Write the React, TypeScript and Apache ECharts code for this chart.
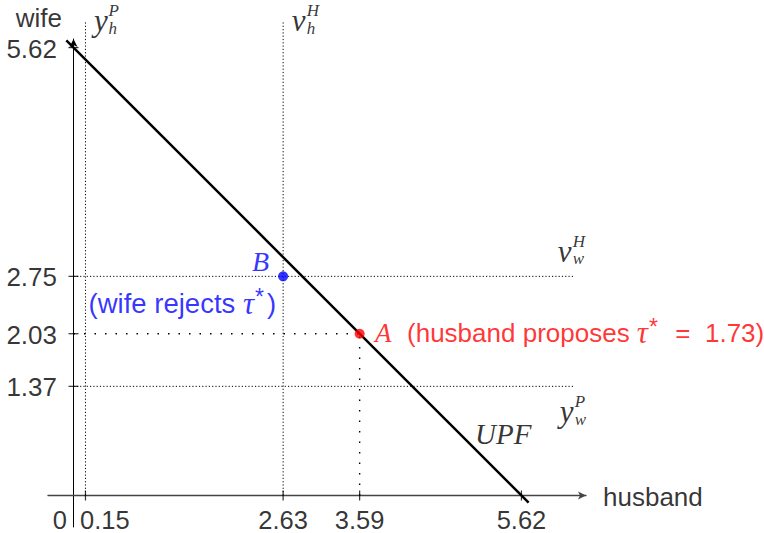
import React, { useEffect, useRef } from 'react';
import * as echarts from 'echarts';

// ---- data ----
const X_MIN = -0.32;
const X_MAX = 6.43;
const Y_MIN = -0.395;
const Y_MAX = 5.728;
const xTickValues = [0.15, 2.63, 3.59, 5.62];
const xTickLabelValues = [0, 0.15, 2.63, 3.59, 5.62];
const xTickLabels = ['0', '0.15', '2.63', '3.59', '5.62'];
const yTickValues = [5.62, 2.75, 2.03, 1.37];
const yTickLabels = ['5.62', '2.75', '2.03', '1.37'];
const upfLine = [[-0.09, 5.71], [5.71, -0.09]];
const pointA = [3.59, 2.03];
const pointB = [2.63, 2.75];
const tauStar = 1.73;
const verticalRefs = [0.15, 2.63]; // y_h^P, v_h^H
const horizontalRefs = [2.75, 1.37]; // v_w^H, y_w^P
const refLineTop = 5.95;
const refLineRight = 6.27;
const upfLabelAnchor = [5.0, 0.62];

const SANS = '"Liberation Sans", Arial, sans-serif';
const SERIF = '"Liberation Serif", "Times New Roman", serif';
const RED = '#ff0000';
const BLUE = '#0000ff';

type LabOpt = {
  dx: number; dy: number; align?: string; serif?: boolean; size?: number; color?: string; rich?: any; lh?: number;
};

function textItem(value: number[], text: string, o: LabOpt) {
  const size = o.size ?? 26;
  return {
    value,
    label: {
      show: true,
      position: 'inside',
      formatter: text,
      align: o.align ?? 'left',
      verticalAlign: 'middle',
      offset: [o.dx, o.dy],
      fontFamily: o.serif ? SERIF : SANS,
      fontStyle: o.serif ? 'italic' : 'normal',
      fontSize: size,
      lineHeight: o.lh ?? Math.round(size * 0.8),
      color: o.color ?? '#000',
      rich: o.rich,
    },
  };
}

function mathRich(color: string, size: number) {
  return {
    sn: { fontFamily: SANS, fontSize: size, color, lineHeight: 24 },
    tau: { fontFamily: SERIF, fontStyle: 'italic', fontSize: 31, color, lineHeight: 24 },
    sup: { fontFamily: SANS, fontSize: 23, color, padding: [0, 3, 12, 1], lineHeight: 14 },
  };
}

// symbol with stacked super/subscript: main letter + "sup\nsub"
function mathSymbol(items: any[], anchor: number[], main: string, sup: string, sub: string,
  mainDx: number, mainDy: number, scriptDx: number, scriptDy: number) {
  items.push(textItem(anchor, main, { dx: mainDx, dy: mainDy, serif: true, size: 31, lh: 24 }));
  items.push(textItem(anchor, `${sup}\n${sub}`, { dx: scriptDx + 0.5, dy: scriptDy, serif: true, size: 17, lh: 17.5 }));
}

function buildLabels() {
  const items: any[] = [];
  // x tick labels
  xTickLabelValues.forEach((v, i) => {
    let align = 'center';
    let dx = 0;
    if (v === 0) { align = 'right'; dx = -6.5; }
    else if (i === 1) { align = 'left'; dx = -5.5; }
    items.push(textItem([v, 0], xTickLabels[i], { dx, dy: 24.8, align, lh: 20, size: 25.5 }));
  });
  // y tick labels
  yTickValues.forEach((v, i) => {
    items.push(textItem([0, v], yTickLabels[i], { dx: -16.5, dy: 1, align: 'right', lh: 20 }));
  });
  // axis names
  items.push(textItem([0, 5.62], 'wife', { dx: -11.5, dy: -29.6, align: 'right', lh: 20 }));
  items.push(textItem([X_MAX, 0], 'husband', { dx: 17, dy: 1.5, lh: 20 }));
  // y_h^P, v_h^H
  mathSymbol(items, [verticalRefs[0], 5.62], 'y', 'P', 'h', 8.5, -27.1, 22.5, -27.9);
  mathSymbol(items, [verticalRefs[1], 5.62], 'v', 'H', 'h', 8.5, -27.1, 23, -27.9);
  // v_w^H, y_w^P
  mathSymbol(items, [refLineRight, horizontalRefs[0]], 'v', 'H', 'w', -15.5, -24.8, -1, -26.1);
  mathSymbol(items, [refLineRight, horizontalRefs[1]], 'y', 'P', 'w', -13.5, 25.2, 1, 24.4);
  // UPF
  items.push(textItem(upfLabelAnchor, 'UPF', { dx: 3, dy: -12, serif: true, size: 29 }));
  // B
  items.push(textItem(pointB, 'B', { dx: -14, dy: -15, align: 'right', serif: true, size: 28, color: BLUE }));
  items.push(textItem(pointB, '{sn|(wife rejects }{tau|τ}{sup|*}{sn|)}', {
    dx: -7, dy: 27, align: 'right', color: BLUE, rich: mathRich(BLUE, 27.5), lh: 24,
  }));
  // A
  items.push(textItem(pointA, 'A', { dx: 15.4, dy: -1, serif: true, size: 27, color: RED }));
  items.push(textItem(pointA, `{sn|(husband proposes }{tau|τ}{sup|*}{sn|  =  ${tauStar.toFixed(2)})}`, {
    dx: 47.4, dy: -1, color: RED, rich: mathRich(RED, 26), lh: 24,
  }));
  return items;
}

const dense = { type: [1.2, 2.1], width: 1, color: '#000' };
const loose = { type: [1.5, 9], width: 1.4, color: '#000' };

function seg(data: number[][], lineStyle: any, z = 2) {
  return {
    type: 'line', data, showSymbol: false, symbol: 'none', lineStyle, clip: false, silent: true, z,
  };
}

export default function App() {
  const ref = useRef<HTMLDivElement>(null);
  useEffect(() => {
    if (!ref.current) return;
    const chart = echarts.init(ref.current, undefined, { renderer: 'svg' });
    const axisCommon = {
      type: 'value',
      axisTick: { show: false },
      axisLabel: { show: false },
      splitLine: { show: false },
    };
    chart.setOption({
      animation: false,
      backgroundColor: '#fff',
      grid: { left: 48, top: 39, width: 538, height: 488, containLabel: false, outerBoundsMode: 'none' },
      xAxis: {
        ...axisCommon, min: X_MIN, max: X_MAX,
        axisLine: { show: true, onZero: true, symbol: ['none', 'arrow'], symbolSize: [6, 8], lineStyle: { color: '#444', width: 1.4 } },
      },
      yAxis: {
        ...axisCommon, min: Y_MIN, max: Y_MAX,
        axisLine: { show: true, onZero: true, symbol: ['none', 'arrow'], symbolSize: [6, 8], lineStyle: { color: '#000', width: 1 } },
      },
      series: [
        ...verticalRefs.map((x) => seg([[x, 0], [x, refLineTop]], dense)),
        ...horizontalRefs.map((y) => seg([[0, y], [refLineRight, y]], dense)),
        seg([[0, pointA[1]], [pointA[0], pointA[1]]], loose),
        seg([[pointA[0], 0], [pointA[0], pointA[1]]], loose),
        seg(upfLine, { width: 2.5, color: '#000', type: 'solid' }, 3),
        {
          type: 'scatter', symbol: 'rect', symbolSize: [1.2, 10], clip: false, silent: true, z: 4,
          itemStyle: { color: '#000' },
          data: xTickValues.map((v) => [v, 0]),
        },
        {
          type: 'scatter', symbol: 'rect', symbolSize: [10, 1.2], clip: false, silent: true, z: 4,
          itemStyle: { color: '#000' },
          data: yTickValues.map((v) => [0, v]),
        },
        {
          type: 'scatter', symbolSize: 10, clip: false, silent: true, z: 5,
          data: [
            { value: pointA, itemStyle: { color: RED } },
            { value: pointB, itemStyle: { color: BLUE } },
          ],
        },
        {
          type: 'scatter', symbolSize: 1, clip: false, silent: true, z: 10,
          itemStyle: { color: 'rgba(0,0,0,0)' },
          data: buildLabels(),
        },
      ],
    });
    return () => chart.dispose();
  }, []);
  return (
    <div
      ref={ref}
      style={{ position: 'fixed', left: 0, top: 0, width: 764, height: 533, background: '#fff' }}
    />
  );
}
